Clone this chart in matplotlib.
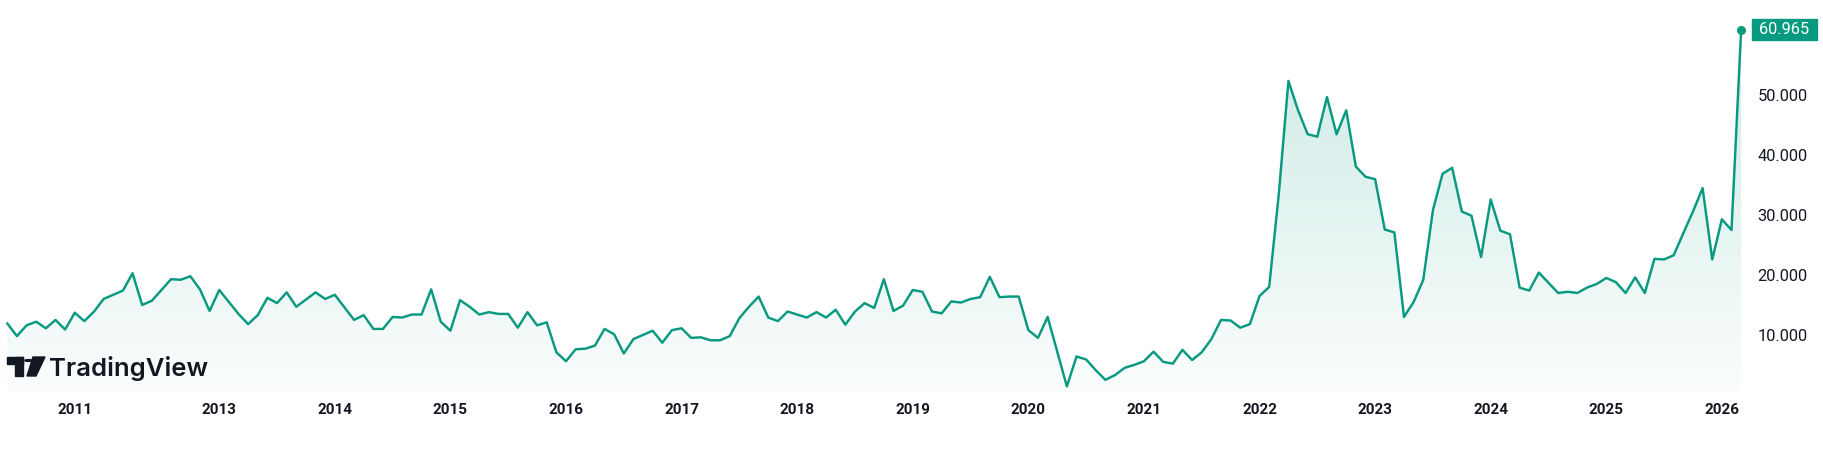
#!/usr/bin/env python3
"""Monthly area chart in TradingView style, last value 60.965."""

import matplotlib
matplotlib.use("Agg")
import numpy as np
import matplotlib.pyplot as plt
import matplotlib.transforms as mtransforms
from matplotlib.patches import Rectangle, Circle, Polygon

# monthly closes, thousands
price_k = [
    11.9, 9.8, 11.6, 12.2, 11.1, 12.5, 10.9, 13.7, 12.3, 13.9,
    16.0, 16.7, 17.4, 20.3, 15.0, 15.7, 17.5, 19.3, 19.2, 19.8,
    17.6, 14.0, 17.5, 15.5, 13.5, 11.8, 13.3, 16.2, 15.3, 17.1,
    14.7, 15.9, 17.1, 16.0, 16.7, 14.6, 12.5, 13.3, 11.0, 11.0,
    13.0, 12.9, 13.4, 13.4, 17.6, 12.2, 10.7, 15.8, 14.7, 13.4,
    13.8, 13.5, 13.5, 11.2, 13.8, 11.6, 12.1, 7.1, 5.6, 7.6,
    7.7, 8.2, 11.0, 10.1, 6.9, 9.3, 10.0, 10.7, 8.7, 10.8,
    11.1, 9.5, 9.6, 9.1, 9.1, 9.8, 12.8, 14.7, 16.4, 12.9,
    12.3, 13.9, 13.4, 12.9, 13.8, 12.9, 14.2, 11.7, 13.9, 15.3,
    14.5, 19.3, 14.0, 14.9, 17.5, 17.2, 13.9, 13.6, 15.6, 15.4,
    16.0, 16.3, 19.7, 16.3, 16.4, 16.4, 10.8, 9.5, 13.0, 7.2,
    1.4, 6.4, 5.9, 4.1, 2.5, 3.3, 4.5, 5.0, 5.6, 7.2,
    5.5, 5.2, 7.5, 5.8, 7.1, 9.3, 12.5, 12.4, 11.2, 11.8,
    16.5, 18.0, 33.5, 52.4, 47.5, 43.5, 43.1, 49.7, 43.5, 47.5,
    38.1, 36.4, 36.0, 27.6, 27.1, 13.0, 15.5, 19.2, 30.8, 36.9,
    37.9, 30.6, 29.9, 23.0, 32.6, 27.4, 26.8, 17.9, 17.4, 20.4,
    18.7, 17.0, 17.2, 17.0, 17.9, 18.5, 19.5, 18.8, 17.0, 19.6,
    17.0, 22.7, 22.6, 23.3, 27.0, 30.6, 34.5, 22.6, 29.3, 27.5,
    60.965,
]

year_labels = ["2011", "2013", "2014", "2015", "2016", "2017", "2018", "2019",
               "2020", "2021", "2022", "2023", "2024", "2025", "2026"]
year_idx = [7, 22, 34, 46, 58, 70, 82, 94, 106, 118, 130, 142, 154, 166, 178]
price_ticks = [10000, 20000, 30000, 40000, 50000]

GREEN = "#089981"
INK = "#131722"
W, H = 1823, 458


def fmt(v):
    return f"{v:,.0f}".replace(",", ".")


def main():
    price = np.array(price_k) * 1000
    price[-1] = 60965
    x = np.arange(len(price))

    fig = plt.figure(figsize=(W / 100, H / 100), dpi=100)
    ax = fig.add_axes([0, (H - 392) / H, 1745 / W, 392 / H])
    x0, x1 = -0.76, len(price) - 1 + 0.4
    y0, y1 = 467, 65910
    ax.set_xlim(x0, x1)
    ax.set_ylim(y0, y1)

    # gradient under the line
    n = 256
    grad = np.zeros((n, 1, 4))
    grad[..., :3] = matplotlib.colors.to_rgb(GREEN)
    grad[:, 0, 3] = np.linspace(0.22, 0.02, n)
    fill = ax.fill_between(x, price, y0, facecolor="none", edgecolor="none")
    im = ax.imshow(grad, extent=[x0, x1, y0, y1], aspect="auto",
                   origin="upper", zorder=1, interpolation="bilinear")
    im.set_clip_path(fill.get_paths()[0], transform=ax.transData)

    ax.plot(x, price, color=GREEN, lw=1.75, zorder=3)
    ax.plot(x[-1], price[-1], "o", color=GREEN, ms=5.5, zorder=4)

    for s in ax.spines.values():
        s.set_visible(False)
    ax.set_xticks(year_idx)
    ax.set_xticklabels(year_labels, fontfamily="Roboto", fontweight="bold",
                       fontsize=11, color=INK)
    ax.yaxis.tick_right()
    ax.set_yticks(price_ticks)
    ax.set_yticklabels([fmt(v) for v in price_ticks], fontfamily="Roboto",
                       fontsize=11.8, color=INK)
    ax.tick_params(axis="x", length=0, pad=8)
    ax.tick_params(axis="y", length=0, pad=9)

    # last-price tag on the scale
    tr = mtransforms.blended_transform_factory(fig.transFigure, ax.transData)
    hh = 10.5 / 392 * (y1 - y0)
    ax.add_patch(Rectangle((1752 / W, price[-1] - hh), 65 / W, 2 * hh,
                           transform=tr, color=GREEN, clip_on=False, zorder=5))
    ax.text(1784.5 / W, price[-1], fmt(price[-1]), transform=tr, color="white",
            fontfamily="Roboto", fontsize=11.8, ha="center", va="center",
            zorder=6)

    # watermark
    def px(a, b):
        return (a / W, (H - b) / H)

    tf = fig.transFigure
    logo = [
        Rectangle(px(7, 364), 16 / W, 7 / H, transform=tf),
        Rectangle(px(15, 376), 8 / W, 19 / H, transform=tf),
        Polygon([px(33, 357), px(45, 357), px(36, 376), px(27, 376)],
                closed=True, transform=tf),
    ]
    for p in logo:
        p.set_color(INK)
        fig.add_artist(p)
    dot = Circle(px(28.5, 360.5), 3.6 / W, transform=tf, color=INK)
    fig.add_artist(dot)
    fig.text(49 / W, (H - 376) / H, "TradingView", fontfamily="Inter",
             fontweight="semibold", fontsize=18.5, color=INK, va="baseline")

    fig.savefig("out.png", dpi=100, facecolor="white")


if __name__ == "__main__":
    main()
